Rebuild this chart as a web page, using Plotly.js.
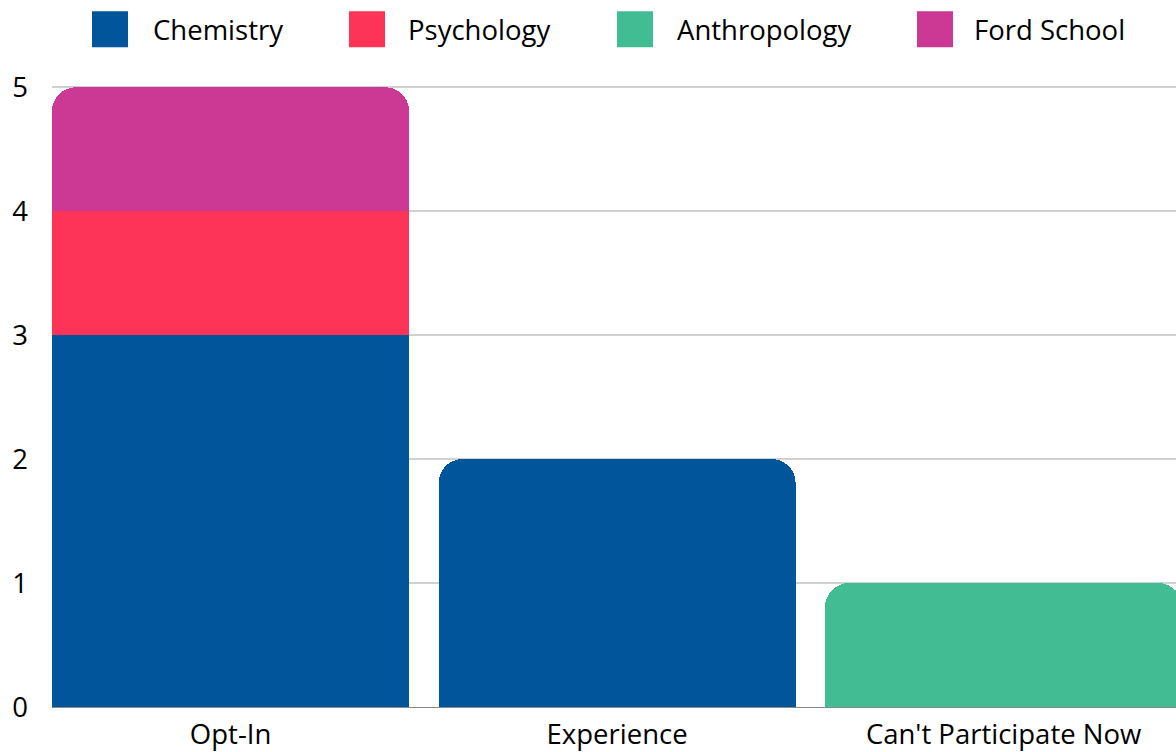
<!DOCTYPE html>
<html>
<head>
<meta charset="utf-8">
<script src="https://cdn.plot.ly/plotly-3.0.1.min.js"></script>
<style>html,body{margin:0;padding:0;background:#fff;overflow:hidden}#chart{width:1176px;height:752px}</style>
</head>
<body>
<div id="chart"></div>
<script>
const categories = ["Opt-In", "Experience", "Can't Participate Now"];
const seriesNames = ["Chemistry", "Psychology", "Anthropology", "Ford School"];
const chemistry = [3, 2, null];
const psychology = [1, null, null];
const anthropology = [null, null, 1];
const fordSchool = [1, null, null];
const seriesValues = [chemistry, psychology, anthropology, fordSchool];
const seriesColors = ["#01559A", "#FE3358", "#42BC93", "#CB3994"];
const yTicks = [0, 1, 2, 3, 4, 5];

const FONT = "Open Sans, sans-serif";
const FSIZE = 27.5;

const traces = seriesNames.map((name, i) => ({
  type: "bar",
  name: name,
  x: categories,
  y: seriesValues[i],
  marker: {color: seriesColors[i], line: {width: 0}},
  showlegend: false,
  hoverinfo: "x+y+name"
}));

// custom legend (large swatches)
const legendSwatchX = [92, 349, 617, 917];
const legendTextX = [151, 406, 675, 972];
const W = 1176, H = 752;
const plotTop = 80.8, plotBottom = 707;
const plotH = plotBottom - plotTop;
const shapes = [];
const annotations = [];
seriesNames.forEach((name, i) => {
  shapes.push({
    type: "rect", xref: "paper", yref: "paper",
    x0: (legendSwatchX[i] - 52) / (W - 52), x1: (legendSwatchX[i] + 36 - 52) / (W - 52),
    y0: (plotBottom - 47) / plotH, y1: (plotBottom - 11) / plotH,
    fillcolor: seriesColors[i], line: {width: 0}, layer: "above"
  });
  annotations.push({
    xref: "paper", yref: "paper",
    x: (legendTextX[i] - 52) / (W - 52), y: (plotBottom - 29) / plotH,
    xanchor: "left", yanchor: "middle", showarrow: false,
    text: name, font: {family: FONT, size: FSIZE, color: "#000"}
  });
});

const layout = {
  width: W, height: H,
  margin: {l: 52, r: 0, t: plotTop, b: H - plotBottom, pad: 0},
  paper_bgcolor: "#fff", plot_bgcolor: "#fff",
  barmode: "stack",
  bargap: 0.076,
  barcornerradius: 24,
  showlegend: false,
  font: {family: FONT, size: FSIZE, color: "#000"},
  xaxis: {
    type: "category",
    range: [-0.462, 2.446],
    showgrid: false, zeroline: false,
    showline: true, linecolor: "#888", linewidth: 1,
    ticks: "", ticklabelstandoff: 3,
    tickfont: {family: FONT, size: FSIZE, color: "#000"},
    fixedrange: true
  },
  yaxis: {
    range: [0, 5.05],
    tickvals: yTicks,
    ticktext: yTicks.map(String),
    showgrid: true, gridcolor: "#d0d0d0", gridwidth: 2,
    zeroline: false, showline: false,
    ticks: "", ticklabelstandoff: 23,
    tickfont: {family: FONT, size: FSIZE, color: "#000"},
    fixedrange: true
  },
  shapes: shapes,
  annotations: annotations
};

Plotly.newPlot("chart", traces, layout, {displayModeBar: false, staticPlot: true});
</script>
</body>
</html>
